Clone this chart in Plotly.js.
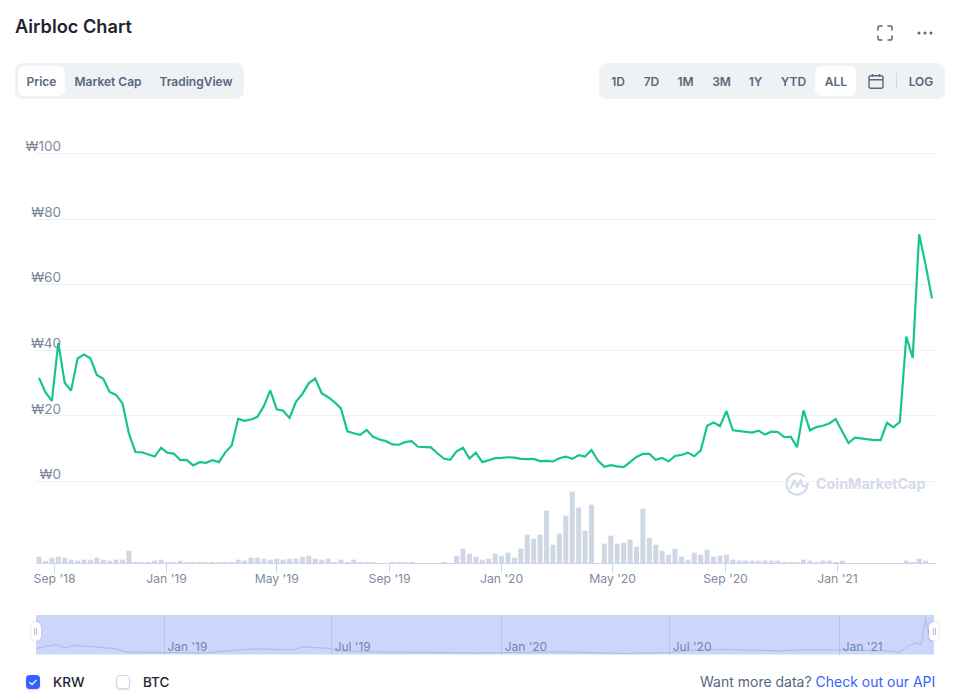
<!DOCTYPE html>
<html><head><meta charset="utf-8">
<script src="https://cdn.plot.ly/plotly-3.0.1.min.js"></script>
<style>
html,body{margin:0;padding:0;background:#fff;width:962px;height:697px;overflow:hidden;font-family:Inter,"Noto Sans",sans-serif}
#chart{position:absolute;left:0;top:0;width:962px;height:697px}
.o{position:absolute;z-index:5}
.pill{background:#eff2f5;border-radius:8px;height:36px;top:63px}
.act{background:#fff;border-radius:6px;height:30px;top:66px}
.b{top:74px;height:15px;line-height:15px;font-size:12px;font-weight:600;color:#58667e;transform:translateX(-50%);white-space:nowrap}
.t{top:674px;height:16px;line-height:16px;font-size:14px;white-space:nowrap}
.box{top:675px;width:14px;height:14px;border-radius:4px;box-sizing:border-box}
.grip{width:10px;height:19px;top:622px;background:#fff;border-radius:5px;box-shadow:0 0 2px rgba(88,102,126,.35)}
.grip i{position:absolute;top:6px;width:1px;height:7px;background:#b8c0d0}
</style></head><body>
<div id="chart"></div>

<div class="o pill" style="left:15px;width:229px"></div>
<div class="o act" style="left:18px;width:47px"></div>
<div class="o b" style="left:41.5px">Price</div>
<div class="o b" style="left:108px">Market Cap</div>
<div class="o b" style="left:196px">TradingView</div>

<div class="o pill" style="left:599px;width:346px"></div>
<div class="o act" style="left:815px;width:41px"></div>
<div class="o b" style="left:618px">1D</div>
<div class="o b" style="left:651.5px">7D</div>
<div class="o b" style="left:685.5px">1M</div>
<div class="o b" style="left:721.5px">3M</div>
<div class="o b" style="left:755.5px">1Y</div>
<div class="o b" style="left:793.5px">YTD</div>
<div class="o b" style="left:836px">ALL</div>
<div class="o b" style="left:921px">LOG</div>
<div class="o" style="left:896px;top:73px;width:1px;height:15px;background:#cfd6e4"></div>
<svg class="o" style="left:867px;top:73px" width="18" height="17" viewBox="0 0 18 17" fill="none" stroke="#58667e" stroke-width="1.4">
<rect x="2" y="2.7" width="14" height="12.6" rx="2"/><path d="M2 6.8H16M5.5 1V3.8M12.5 1V3.8"/></svg>

<svg class="o" style="left:877px;top:25px" width="16" height="16" viewBox="0 0 16 16" fill="none" stroke="#58667e" stroke-width="1.5" stroke-linecap="round">
<path d="M1 5V2.5Q1 1 2.5 1H5M11 1H13.5Q15 1 15 2.5V5M15 11V13.5Q15 15 13.5 15H11M5 15H2.5Q1 15 1 13.5V11"/></svg>
<svg class="o" style="left:916px;top:30px" width="18" height="6" viewBox="0 0 18 6" fill="#58667e">
<circle cx="3" cy="3" r="1.5"/><circle cx="9" cy="3" r="1.5"/><circle cx="15" cy="3" r="1.5"/></svg>

<div class="o grip" style="left:30.5px"><i style="left:3.5px"></i><i style="left:5.5px"></i></div>
<div class="o grip" style="left:929px"><i style="left:3.5px"></i><i style="left:5.5px"></i></div>

<svg class="o" style="left:785px;top:472px" width="24" height="24" viewBox="0 0 24 24" fill="none" stroke="#d5dbe8" stroke-width="2.2" stroke-linecap="round" stroke-linejoin="round">
<path d="M22.5 12A10.5 10.5 0 1 1 19 4.2"/><path d="M5.5 16L9.5 8.2L12.2 14.8L15.6 8L17.3 13.6Q18.5 16 22.5 12"/></svg>
<div class="o" style="left:816px;top:475px;height:18px;line-height:18px;font-size:14.3px;font-weight:700;color:#d5dbe8;white-space:nowrap">CoinMarketCap</div>

<div class="o box" style="left:26px;background:#3861fb;box-shadow:0 1px 2px rgba(88,102,126,.3)"></div>
<svg class="o" style="left:26px;top:675px" width="14" height="14" viewBox="0 0 14 14" fill="none" stroke="#fff" stroke-width="1.2"><path d="M3.5 7.2L6 9.6L10.5 4.8"/></svg>
<div class="o t" style="left:53px;color:#222531;font-weight:500;font-size:13.5px">KRW</div>
<div class="o box" style="left:116px;background:#fff;border:1px solid #cfd6e4;box-shadow:0 1px 2px rgba(88,102,126,.2)"></div>
<div class="o t" style="left:143px;color:#222531;font-weight:500;font-size:13.5px">BTC</div>
<div class="o t" style="left:700px;color:#58667e">Want more data? <span style="color:#3861fb">Check out our API</span></div>

<script>
// Weekly closing price in KRW
const priceValues = [31.6,27.2,24.6,42.3,30.1,27.7,37.5,38.7,37.6,32.5,31.3,27.3,26.4,23.8,14.6,9.0,8.9,8.3,7.6,10.3,
8.7,8.5,6.5,6.6,4.9,5.9,5.7,6.5,5.9,8.9,11.0,19.1,18.5,18.9,19.7,23.0,27.8,22.0,21.6,19.4,
24.3,26.7,30.0,31.4,26.9,25.7,24.2,22.3,15.3,14.7,14.2,15.7,13.6,12.8,12.3,11.3,11.2,12.0,12.3,10.6,
10.5,10.4,8.6,7.0,6.6,9.2,10.3,7.0,8.8,5.9,6.5,7.1,7.2,7.4,7.3,6.9,6.8,6.9,6.2,6.3,
6.1,7.1,7.6,6.9,8.0,7.6,9.6,6.4,4.5,5.0,4.6,4.4,5.9,7.5,8.4,8.4,6.6,7.2,6.1,7.8,
8.1,8.8,7.7,9.5,17.0,18.0,16.9,21.5,15.6,15.3,15.1,14.9,15.5,14.3,15.2,15.1,13.5,13.7,10.5,21.7,
15.6,16.6,17.0,17.7,19.0,15.5,11.7,13.4,13.1,13.0,12.6,12.6,17.9,16.5,18.2,44.2,37.7,75.4,66.2,55.8];

// Weekly volume (relative units)
const volumeValues = [19,6,16,19,16,10,7,10,10,16,10,7,10,10,37,3,3,3,7,10,
3,3,7,3,3,3,3,3,3,3,3,10,7,16,16,13,10,13,10,13,
13,19,22,13,10,13,3,10,3,10,3,3,3,0,0,3,3,3,3,0,
0,0,0,3,0,22,43,28,19,10,13,28,22,31,16,43,85,73,85,157,
55,88,142,214,166,97,175,0,58,82,58,61,70,49,163,76,55,37,25,43,
19,10,31,25,40,19,22,25,10,7,7,7,7,7,7,7,3,3,3,10,
7,3,7,7,3,7,0,0,0,0,0,0,0,0,0,7,3,13,7,0];

const startDate = Date.UTC(2018,7,15);
const weekDates = priceValues.map((_, i) => new Date(startDate + i*7*864e5).toISOString().slice(0,10));

const priceTicks = [0,20,40,60,80,100];
const priceTickText = ["₩0","₩20","₩40","₩60","₩80","₩100"];

const monthTicks = ["2018-09-01","2019-01-01","2019-05-01","2019-09-01","2020-01-01","2020-05-01","2020-09-01","2021-01-01"];
const monthTickText = ["Sep '18","Jan '19","May '19","Sep '19","Jan '20","May '20","Sep '20","Jan '21"];

// Navigator overview series
const navDates = ["2018-08-15","2018-09-06","2018-09-14","2018-09-26","2018-10-12","2018-11-07","2018-11-21","2018-12-24","2019-01-02","2019-02-16",
"2019-03-20","2019-04-11","2019-05-20","2019-05-31","2019-06-26","2019-07-03","2019-07-06","2019-08-26","2019-12-08","2020-03-05",
"2020-05-13","2020-06-30","2020-07-24","2020-09-02","2020-10-29","2020-11-20","2021-01-03","2021-02-23","2021-03-06","2021-03-16",
"2021-03-24","2021-03-30","2021-04-04","2021-04-07","2021-04-09","2021-04-13"];
const navValues = [30,50,33,45,40,30,12,10,13,8,22,28,23,38,31,26,18,12,8,13,5,10,22,25,18,23,23,18,10,43,60,46,183,113,66,71];
const navTicks = ["2019-01-01","2019-07-01","2020-01-01","2020-07-01","2021-01-01"];
const navTickText = ["Jan '19","Jul '19","Jan '20","Jul '20","Jan '21"];

const W=962, H=697;
const fy = y => (H-y)/H, fx = x => x/W;
const tickFont = {family:'Inter, "Noto Sans", sans-serif', size:12.2, color:'#808a9d'};
const priceTickFont = {family:'Inter, "Noto Sans", sans-serif', size:13.5, color:'#808a9d'};

const traces = [
 {type:'scatter',mode:'lines',x:weekDates,y:priceValues,xaxis:'x',yaxis:'y',
  line:{color:'#16c784',width:2.2,shape:'linear'},hoverinfo:'skip',showlegend:false},
 {type:'bar',x:weekDates,y:volumeValues,xaxis:'x',yaxis:'y2',
  marker:{color:'#cfd6e4',line:{width:0}},hoverinfo:'skip',showlegend:false},
 {type:'scatter',mode:'lines',x:navDates,y:navValues,xaxis:'x2',yaxis:'y3',
  line:{color:'#aab8ee',width:1},hoverinfo:'skip',showlegend:false}
];

const layout = {
 width:W,height:H,margin:{l:0,r:0,t:0,b:0,autoexpand:false},
 paper_bgcolor:'#fff',plot_bgcolor:'rgba(0,0,0,0)',showlegend:false,bargap:0.22,
 title:{text:'Airbloc Chart',x:15/W,xanchor:'left',y:1-27/H,yanchor:'middle',
  font:{family:'Inter, "Noto Sans", sans-serif',size:18.2,weight:600,color:'#222531'}},
 xaxis:{domain:[fx(36),fx(936)],anchor:'y2',type:'date',range:['2018-08-11 17:30','2021-04-18 08:40'],
  tickmode:'array',tickvals:monthTicks,ticktext:monthTickText,tickfont:tickFont,
  ticks:'outside',ticklen:9,tickwidth:1,tickcolor:'#ccd6eb',showline:true,linecolor:'#ccd6eb',linewidth:1,
  ticklabelstandoff:-5,showgrid:false,zeroline:false,fixedrange:true},
 yaxis:{domain:[fy(483.5),fy(151.5)],range:[-0.61,100.61],anchor:'x',
  tickmode:'array',tickvals:priceTicks,ticktext:priceTickText,tickfont:priceTickFont,
  ticks:'',ticklabelstandoff:-26,ticklabelshift:-7,
  showgrid:true,gridcolor:'#eff2f5',gridwidth:1,zeroline:false,showline:false,fixedrange:true},
 yaxis2:{domain:[fy(563),fy(490)],range:[0,219],anchor:'x',visible:false,fixedrange:true},
 xaxis2:{domain:[fx(36),fx(934)],anchor:'y3',type:'date',range:['2018-08-15','2021-04-13'],
  tickmode:'array',tickvals:navTicks,ticktext:navTickText,
  tickfont:{family:tickFont.family,size:12,color:'#7485a8'},
  ticklabelposition:'inside right',ticks:'',ticklabelstandoff:-5,ticklabelshift:3,
  showgrid:true,gridcolor:'#b9c5ee',gridwidth:1,zeroline:false,showline:false,fixedrange:true},
 yaxis3:{domain:[fy(654.5),fy(615)],range:[0,197],anchor:'x2',visible:false,fixedrange:true},
 shapes:[{type:'rect',xref:'x2 domain',yref:'y3 domain',x0:0,x1:1,y0:0,y1:1,layer:'below',
  fillcolor:'#ccd6fb',line:{width:0}}]
};
Plotly.newPlot('chart',traces,layout,{displayModeBar:false,staticPlot:true});
</script>
</body></html>
